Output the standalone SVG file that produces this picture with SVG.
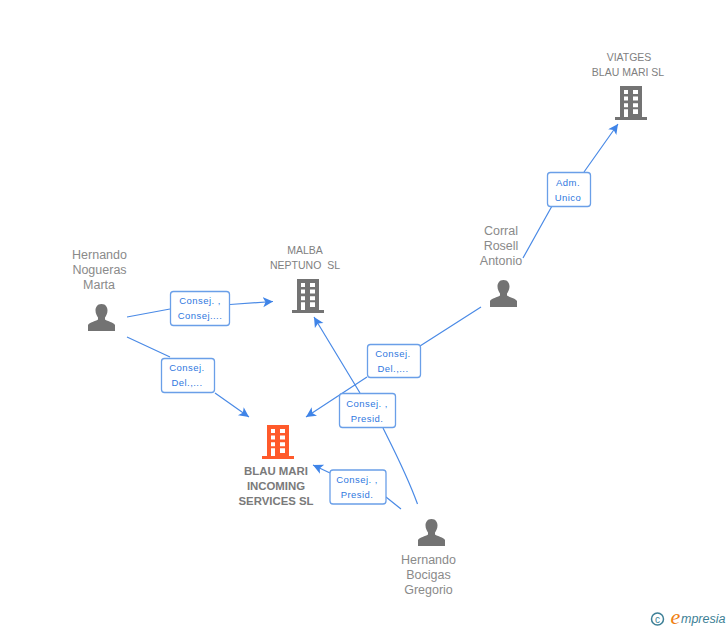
<svg xmlns="http://www.w3.org/2000/svg" width="728" height="630" viewBox="0 0 728 630">
<style>
text{font-family:"Liberation Sans",Arial,sans-serif}
.n{font-size:12.5px;fill:#8a8a8a;text-anchor:middle}
.c{font-size:10.5px;fill:#808080;text-anchor:middle}
.b{font-size:11.4px;fill:#7a7a7a;font-weight:bold;text-anchor:middle}
.l{font-size:9.5px;fill:#2f78e0;text-anchor:middle;letter-spacing:.45px}
.box{fill:#fff;stroke:#6a9fe8;stroke-width:1.3}
.e{fill:none;stroke:#4a8ae6;stroke-width:1.2}
.g{fill:#737373}
.r{fill:#ff5a2b}
</style>
<defs>
<marker id="a" markerUnits="userSpaceOnUse" markerWidth="12" markerHeight="12" refX="10" refY="5" orient="auto"><path d="M0 0L10 5L0 10L2.500 5Z" fill="#3f84e8"/></marker>
<path id="b" d="M-11 -20H11V11H16V14H-16V11H-11ZM-7 -16V-12H-3V-16ZM2 -16V-12H7V-16ZM-7 -9.500V-5.500H-3V-9.500ZM2 -9.500V-5.500H7V-9.500ZM-7 -2.700V1.300H-3V-2.700ZM2 -2.700V1.300H7V-2.700ZM-7 3.300V11H-3V3.300ZM2 3.300V8H7V3.300Z" fill-rule="evenodd"/>
<path id="p" d="M0 -14C-4.500 -14 -6 -10.500 -6 -7.500C-6 -4.500 -4.500 -2 -3.500 -0.500V1.500C-6 3.500 -12 4 -13.500 7V13H13.500V7C12 4 6 3.500 3.500 1.500V-0.500C4.500 -2 6 -4.500 6 -7.500C6 -10.500 4.500 -14 0 -14Z"/>
</defs>
<g id="connectors">
<path class="e" d="M127 317L170 309M230 304.500L273 301.500" marker-end="url(#a)"/>
<path class="e" d="M127 337L170 357M215 393L249 417" marker-end="url(#a)"/>
<path class="e" d="M481 307L420 346M367 377L306 417" marker-end="url(#a)"/>
<path class="e" d="M523 258L552 206M584 172L618 124" marker-end="url(#a)"/>
<path class="e" d="M417.500 504C407 475 395 452 383 428M360 393L314 317" marker-end="url(#a)"/>
<path class="e" d="M401 509L386 497M330 473L313 465" marker-end="url(#a)"/>
</g>
<g id="n1" class="g"><use href="#b" x="631" y="106"/><text class="c" x="629" y="61">VIATGES</text><text class="c" x="628" y="76">BLAU MARI SL</text></g>
<g id="n2" class="g"><use href="#b" x="308" y="299"/><text class="c" x="305" y="254">MALBA</text><text class="c" x="305" y="269" xml:space="preserve">NEPTUNO  SL</text></g>
<g id="n3" class="r"><use href="#b" x="278" y="445"/><text class="b" x="276" y="475">BLAU MARI</text><text class="b" x="276" y="490">INCOMING</text><text class="b" x="276" y="505">SERVICES SL</text></g>
<g id="n4" class="g"><use href="#p" x="101.500" y="318"/><text class="n" x="99.500" y="259">Hernando</text><text class="n" x="99.500" y="274">Nogueras</text><text class="n" x="99" y="289">Marta</text></g>
<g id="n5" class="g"><use href="#p" x="503.500" y="294"/><text class="n" x="501" y="235">Corral</text><text class="n" x="501" y="250">Rosell</text><text class="n" x="501" y="265">Antonio</text></g>
<g id="n6" class="g"><use href="#p" x="431.500" y="533"/><text class="n" x="428.500" y="564">Hernando</text><text class="n" x="428.500" y="579">Bocigas</text><text class="n" x="428.500" y="594">Gregorio</text></g>
<g id="e1"><rect class="box" x="170.500" y="291.500" width="59" height="34" rx="3"/><text class="l" x="200" y="304">Consej. ,</text><text class="l" x="200" y="319">Consej....</text></g>
<g id="e2"><rect class="box" x="161.500" y="358.500" width="53" height="34" rx="3"/><text class="l" x="187" y="371">Consej.</text><text class="l" x="187" y="386">Del.,...</text></g>
<g id="e3"><rect class="box" x="367.500" y="344.500" width="53" height="33" rx="3"/><text class="l" x="393" y="357">Consej.</text><text class="l" x="393" y="372">Del.,...</text></g>
<g id="e4"><rect class="box" x="547.500" y="172.500" width="43" height="34" rx="3"/><text class="l" x="568" y="186">Adm.</text><text class="l" x="568" y="201">Unico</text></g>
<g id="e5"><rect class="box" x="339.500" y="393.500" width="56" height="34" rx="3"/><text class="l" x="367" y="407">Consej. ,</text><text class="l" x="367" y="422">Presid.</text></g>
<g id="e6"><rect class="box" x="330" y="470" width="56" height="34" rx="3"/><text class="l" x="357" y="483">Consej. ,</text><text class="l" x="357" y="498">Presid.</text></g>
<g id="logo"><circle cx="657.500" cy="619" r="6" fill="none" stroke="#3d7f96" stroke-width="1.500"/><text x="657.500" y="622.500" font-size="10" fill="#3d7f96" text-anchor="middle">c</text><text x="670.500" y="624" font-size="22" font-style="italic" fill="#f08010" style="font-family:'Liberation Serif',serif">e</text><text x="681" y="623" font-size="12.500" font-style="italic" fill="#3d7f96">mpresia</text></g>
</svg>
